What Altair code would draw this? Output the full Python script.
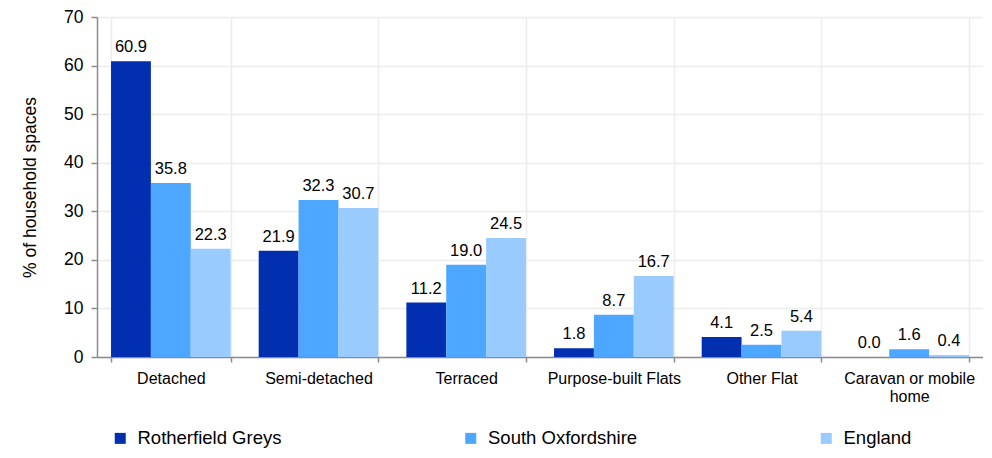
import altair as alt
import pandas as pd

categories = ["Detached", "Semi-detached", "Terraced", "Purpose-built Flats", "Other Flat", "Caravan or mobile home"]
series = ["Rotherfield Greys", "South Oxfordshire", "England"]
rotherfield_greys = [60.9, 21.9, 11.2, 1.8, 4.1, 0.0]
south_oxfordshire = [35.8, 32.3, 19.0, 8.7, 2.5, 1.6]
england = [22.3, 30.7, 24.5, 16.7, 5.4, 0.4]
colors = ["#022EB0", "#4DA6FF", "#99CBFF"]

rows = []
for name, vals in zip(series, [rotherfield_greys, south_oxfordshire, england]):
    for c, v in zip(categories, vals):
        rows.append({"category": c, "series": name, "value": v})
df = pd.DataFrame(rows)

FONT = "Liberation Sans"
GRID = "#ececec"
AXIS = "#8c8c8c"

x = alt.X(
    "category:N",
    sort=categories,
    scale=alt.Scale(paddingInner=0.19, paddingOuter=0.095),
    axis=alt.Axis(
        title=None,
        labelAngle=0,
        labelFontSize=16,
        labelColor="#000000",
        labelFont=FONT,
        labelPadding=8,
        labelLineHeight=18,
        labelExpr="datum.label == 'Caravan or mobile home' ? ['Caravan or mobile', 'home'] : datum.label",
        tickBand="extent",
        tickSize=5,
        tickColor=AXIS,
        tickWidth=1.5,
        domainColor=AXIS,
        domainWidth=1.5,
        grid=True,
        gridColor=GRID,
        gridWidth=1.5,
    ),
)
xoff = alt.XOffset("series:N", sort=series, scale=alt.Scale(paddingInner=0, paddingOuter=0))
y = alt.Y(
    "value:Q",
    scale=alt.Scale(domain=[0, 70]),
    axis=alt.Axis(
        title="% of household spaces",
        titleFontSize=17.5,
        titleFontWeight="normal",
        titleFont=FONT,
        titleColor="#000000",
        titlePadding=24,
        values=[0, 10, 20, 30, 40, 50, 60, 70],
        labelFontSize=17.5,
        labelFont=FONT,
        labelColor="#000000",
        labelPadding=8,
        tickSize=6,
        tickColor=AXIS,
        tickWidth=1.5,
        domainColor=AXIS,
        domainWidth=1.5,
        grid=True,
        gridColor=GRID,
        gridWidth=1.5,
    ),
)
color = alt.Color(
    "series:N",
    sort=series,
    scale=alt.Scale(domain=series, range=colors),
    legend=alt.Legend(
        title=None,
        orient="none",
        legendX=14,
        legendY=412,
        direction="horizontal",
        columns=3,
        columnPadding=179.5,
        symbolType="square",
        symbolSize=121,
        symbolStrokeWidth=0,
        labelFontSize=18.5,
        labelFont=FONT,
        labelColor="#000000",
        labelOffset=8,
    ),
)

bars = alt.Chart(df).mark_bar().encode(x=x, xOffset=xoff, y=y, color=color)
labels = alt.Chart(df).mark_text(dy=-14, fontSize=16.5, font=FONT, color="#000000").encode(
    x=alt.X("category:N", sort=categories),
    xOffset=alt.XOffset("series:N", sort=series),
    y="value:Q",
    text=alt.Text("value:Q", format=".1f"),
)

chart = (
    alt.layer(bars, labels)
    .properties(
        width=886,
        height=340,
        autosize=alt.AutoSizeParams(type="none"),
        padding={"left": 89, "top": 9, "right": 0, "bottom": 92},
    )
    .configure_view(stroke=None)
    .configure(background="white")
)

chart.save("out.html", embed_options={"renderer": "svg", "actions": False})
